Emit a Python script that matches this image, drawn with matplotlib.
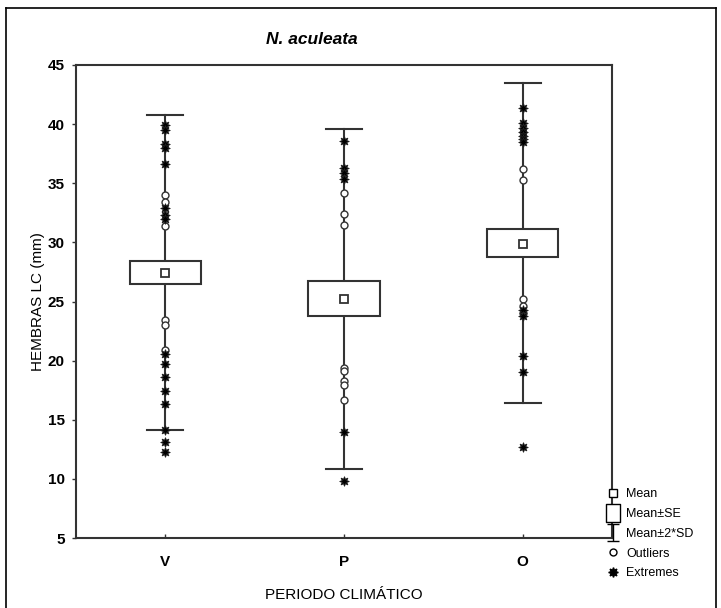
import matplotlib
matplotlib.use("Agg")
from matplotlib import pyplot as plt
from matplotlib.lines import Line2D
from matplotlib.path import Path
from matplotlib.legend_handler import HandlerErrorbar

plt.rcParams['font.family'] = ['Liberation Sans', 'DejaVu Sans']

# data
categories = ['V', 'P', 'O']
means = [27.4, 25.2, 29.9]
se_low = [26.45, 23.8, 28.75]
se_high = [28.4, 26.7, 31.1]
sd_low = [14.15, 10.8, 16.45]
sd_high = [40.8, 39.6, 43.5]

outliers_v = [34.0, 33.4, 31.4, 23.4, 23.0, 20.9]
outliers_p = [34.2, 32.4, 31.5, 19.4, 19.1, 18.25, 17.95, 16.7]
outliers_o = [36.2, 35.3, 25.2, 24.6, 24.0]

extremes_v = [39.9, 39.5, 38.3, 38.0, 36.6, 32.9, 32.3, 32.0,
              20.6, 19.7, 18.6, 17.4, 16.3, 14.15, 13.1, 12.3]
extremes_p = [38.6, 36.3, 35.9, 35.4, 14.0, 9.8]
extremes_o = [41.4, 40.1, 39.7, 39.3, 39.0, 38.7, 38.45,
              24.3, 23.75, 20.4, 19.0, 12.7]

outliers = [outliers_v, outliers_p, outliers_o]
extremes = [extremes_v, extremes_p, extremes_o]

line_col = '#333333'

fig = plt.figure(figsize=(7.21, 6.08), dpi=100)
ax = fig.add_axes([0.1054, 0.1151, 0.7434, 0.7780])

box_w = 0.4
cap_w = 0.2
for i, cat in enumerate(categories):
    x = i + 0.5
    ax.plot([x, x], [sd_low[i], sd_high[i]], color=line_col, lw=1.5, zorder=1)
    ax.plot([x - cap_w / 2, x + cap_w / 2], [sd_low[i]] * 2, color=line_col, lw=1.5, zorder=1)
    ax.plot([x - cap_w / 2, x + cap_w / 2], [sd_high[i]] * 2, color=line_col, lw=1.5, zorder=1)
    ax.add_patch(plt.Rectangle((x - box_w / 2, se_low[i]), box_w, se_high[i] - se_low[i],
                               facecolor='white', edgecolor=line_col, lw=1.5, zorder=2))
    ax.plot([x], [means[i]], marker='s', ms=6, mfc='white', mec=line_col, mew=1.3, zorder=3)
    ax.plot([x] * len(outliers[i]), outliers[i], ls='none', marker='o', ms=5,
            mfc='white', mec=line_col, mew=1.0, zorder=4)
    ax.plot([x] * len(extremes[i]), extremes[i], ls='none', marker=(8, 1, 0), ms=7,
            mfc='black', mec='#222222', mew=0.6, zorder=5)

# dummy errorbar only used as the legend's I-beam symbol
sd_handle = ax.errorbar([float('nan')], [float('nan')], yerr=[1], fmt='none',
                        ecolor='black', elinewidth=1, capsize=4, capthick=1)

ax.set_xlim(0, 3)
ax.set_ylim(5, 45)
ax.set_xticks([0.5, 1.5, 2.5])
ax.set_xticklabels(categories, fontsize=11, fontweight='bold')
ax.set_yticks(range(5, 46, 5))
ax.set_yticklabels([str(v) for v in range(5, 46, 5)], fontsize=11, fontweight='bold')
ax.tick_params(axis='y', direction='out', length=3, width=1, pad=5, color=line_col)
ax.tick_params(axis='x', direction='in', length=3, width=1, pad=12, color=line_col)
for s in ax.spines.values():
    s.set_color(line_col)
    s.set_linewidth(1.5)

ax.set_xlabel('PERIODO CLIMÁTICO', fontsize=11, labelpad=14)
ax.set_ylabel('HEMBRAS LC (mm)', fontsize=11, labelpad=2)
ax.set_title('N. aculeata', fontsize=12.5, fontweight='bold', style='italic',
             x=0.44, pad=15)

# legend symbols
tallbox = Path([(-0.8, -1), (0.8, -1), (0.8, 1), (-0.8, 1), (-0.8, -1)],
               [Path.MOVETO, Path.LINETO, Path.LINETO, Path.LINETO, Path.CLOSEPOLY])
handles = [
    Line2D([], [], ls='none', marker='s', ms=5.5, mfc='white', mec='black', mew=1),
    Line2D([], [], ls='none', marker=tallbox, ms=13, mfc='white', mec='black', mew=1),
    sd_handle,
    Line2D([], [], ls='none', marker='o', ms=5, mfc='white', mec='black', mew=1),
    Line2D([], [], ls='none', marker=(8, 1, 0), ms=7, mfc='black', mec='black'),
]
labels = ['Mean', 'Mean±SE', 'Mean±2*SD', 'Outliers', 'Extremes']
fig.legend(handles, labels, loc='upper left', bbox_to_anchor=(0.836, 0.205),
           frameon=False, fontsize=9, handlelength=0.9, handletextpad=0.55,
           labelspacing=0.62, borderaxespad=0,
           handler_map={type(sd_handle): HandlerErrorbar(yerr_size=0.65)})

# figure frame
fig.add_artist(Line2D([0.008, 0.008], [0, 0.987], color='black', lw=1.2, transform=fig.transFigure))
fig.add_artist(Line2D([0.008, 0.993], [0.987, 0.987], color='black', lw=1.2, transform=fig.transFigure))
fig.add_artist(Line2D([0.993, 0.993], [0, 0.987], color='black', lw=1.2, transform=fig.transFigure))

fig.savefig('out.png', dpi=100)
